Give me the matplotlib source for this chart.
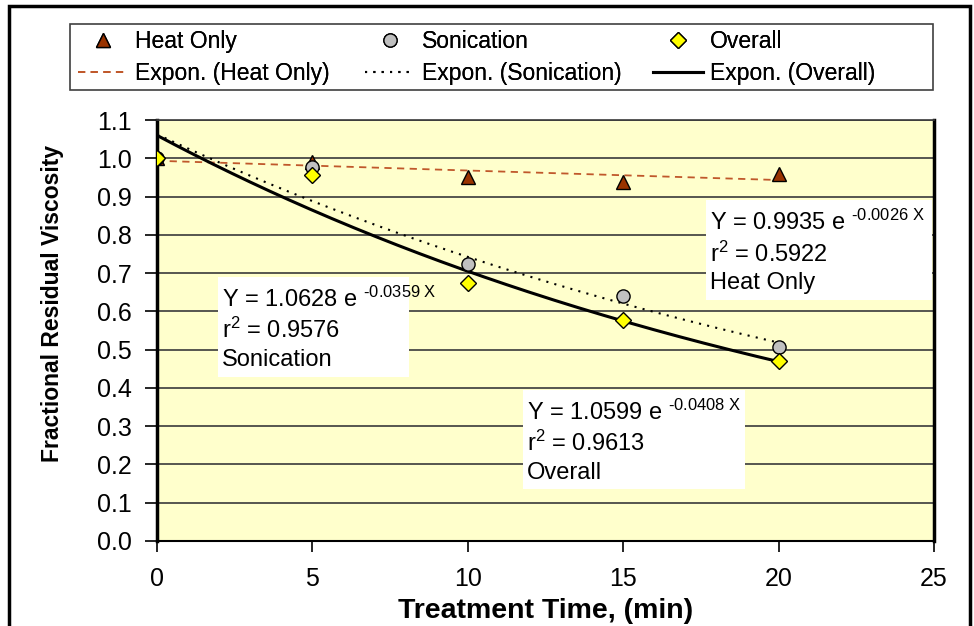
import numpy as np
import matplotlib
matplotlib.use("Agg")
import matplotlib.pyplot as plt
from matplotlib.lines import Line2D
from matplotlib.patches import Rectangle

plt.rcParams['font.family'] = ['Liberation Sans', 'DejaVu Sans']
plt.rcParams['mathtext.fontset'] = 'custom'
plt.rcParams['mathtext.rm'] = 'Liberation Sans'
plt.rcParams['mathtext.it'] = 'Liberation Sans'

# treatment time (min) and fractional residual viscosity
time_min = [0, 5, 10, 15, 20]
heat_only = [1.00, 0.99, 0.952, 0.938, 0.96]
sonication = [1.00, 0.977, 0.725, 0.641, 0.507]
overall = [1.00, 0.957, 0.675, 0.577, 0.47]

# exponential trendline coefficients: (a, b, r^2) for Y = a * exp(b * X)
heat_fit = (0.9935, -0.0026, 0.5922)
son_fit = (1.0628, -0.0359, 0.9576)
ovr_fit = (1.0599, -0.0408, 0.9613)

series_names = ['Heat Only', 'Sonication', 'Overall']

W, H = 974, 626
fig = plt.figure(figsize=(W / 100, H / 100), dpi=100)
ax = fig.add_axes([157 / W, 1 - 541 / H, (934 - 157) / W, (541 - 120) / H])
ax.set_facecolor('#FFFFCC')

heat_line = dict(color='#C0582B', lw=1.3, dashes=(4, 3))
son_line = dict(color='black', lw=1.5, dashes=(1, 3))
ovr_line = dict(color='black', lw=2.2)
heat_mk = dict(marker='^', ms=9.5, mfc='#993300', mec='black', mew=1)
son_mk = dict(marker='o', ms=9.5, mfc='#C0C0C0', mec='black', mew=1)
ovr_mk = dict(marker='D', ms=8, mfc='#FFFF00', mec='black', mew=1)

xs = np.linspace(0, 20, 200)
ax.plot(xs, heat_fit[0] * np.exp(heat_fit[1] * xs), zorder=3, **heat_line)
ax.plot(xs, son_fit[0] * np.exp(son_fit[1] * xs), zorder=3, **son_line)
ax.plot(xs, ovr_fit[0] * np.exp(ovr_fit[1] * xs), zorder=3, **ovr_line)

ax.plot(time_min, heat_only, ls='none', zorder=4, **heat_mk)
ax.plot(time_min, sonication, ls='none', zorder=5, **son_mk)
ax.plot(time_min, overall, ls='none', zorder=6, **ovr_mk)

ax.set_xlim(0, 25)
ax.set_ylim(0, 1.1)
ax.set_xticks([0, 5, 10, 15, 20, 25])
ax.set_yticks(np.arange(0, 1.11, 0.1))
ax.yaxis.set_major_formatter(matplotlib.ticker.FormatStrFormatter('%.1f'))
ax.grid(axis='y', color='#3a3a3a', lw=1.2, zorder=1)
ax.set_axisbelow(True)
ax.tick_params(axis='x', direction='out', length=8, width=1.2, pad=11, labelsize=18)
ax.tick_params(axis='y', direction='out', length=9, width=1.2, pad=9, labelsize=18)

for side in ['left', 'right']:
    ax.spines[side].set_linewidth(2.5)
    ax.spines[side].set_color('black')
ax.spines['bottom'].set_linewidth(1.5)
ax.spines['top'].set_linewidth(1.2)
ax.spines['top'].set_color('#3a3a3a')

ax.set_xlabel('Treatment Time, (min)', fontsize=20.5, fontweight='bold')
ax.set_ylabel('Fractional Residual Viscosity', fontsize=16.5, fontweight='bold')
ax.xaxis.set_label_coords(0.50, -0.135)
ax.yaxis.set_label_coords(-0.12, 0.565)

# fit equation boxes
def fit_box(x0, x1, y0, y1, fit, name):
    ax.add_patch(Rectangle((x0, y0), x1 - x0, y1 - y0, facecolor='white',
                           edgecolor='none', zorder=7))
    txt = ('Y = %.4f e $^{\\text{%.4f X}}$\nr$^2$ = %.4f\n%s'
           % (fit[0], fit[1], fit[2], name))
    ax.text(x0 + 0.12, y1 - 0.025, txt, ha='left', va='top', fontsize=17,
            linespacing=1.32, zorder=8)

fit_box(17.66, 24.94, 0.630, 0.891, heat_fit, 'Heat Only')
fit_box(1.965, 8.10, 0.4285, 0.690, son_fit, 'Sonication')
fit_box(11.78, 18.92, 0.136, 0.395, ovr_fit, 'Overall')

# legend frame, then one two-row legend per series
fig.patches.append(Rectangle((70 / W, 1 - 90 / H), (933 - 70) / W, 66 / H,
                             transform=fig.transFigure, facecolor='white',
                             edgecolor='#404040', lw=1.2, zorder=0))
pairs = [(heat_mk, heat_line), (son_mk, son_line), (ovr_mk, ovr_line)]
col_x = [78, 365, 653]
for (mk, ln), name, cx in zip(pairs, series_names, col_x):
    handles = [Line2D([], [], ls='none', **mk), Line2D([], [], **ln)]
    leg = fig.legend(handles, [name, 'Expon. (%s)' % name], loc='upper left',
                     bbox_to_anchor=(cx / W, 1 - 30 / H), frameon=False,
                     fontsize=16.5, handlelength=2.2, handletextpad=0.3,
                     labelspacing=0.4, borderpad=0, borderaxespad=0)
    fig.add_artist(leg)

# outer chart border
fig.patches.append(Rectangle((9 / W, -0.01), (970 - 9) / W, 1.01 - 6 / H,
                             transform=fig.transFigure, facecolor='none',
                             edgecolor='black', lw=2.5))

fig.savefig('out.png', dpi=100)
